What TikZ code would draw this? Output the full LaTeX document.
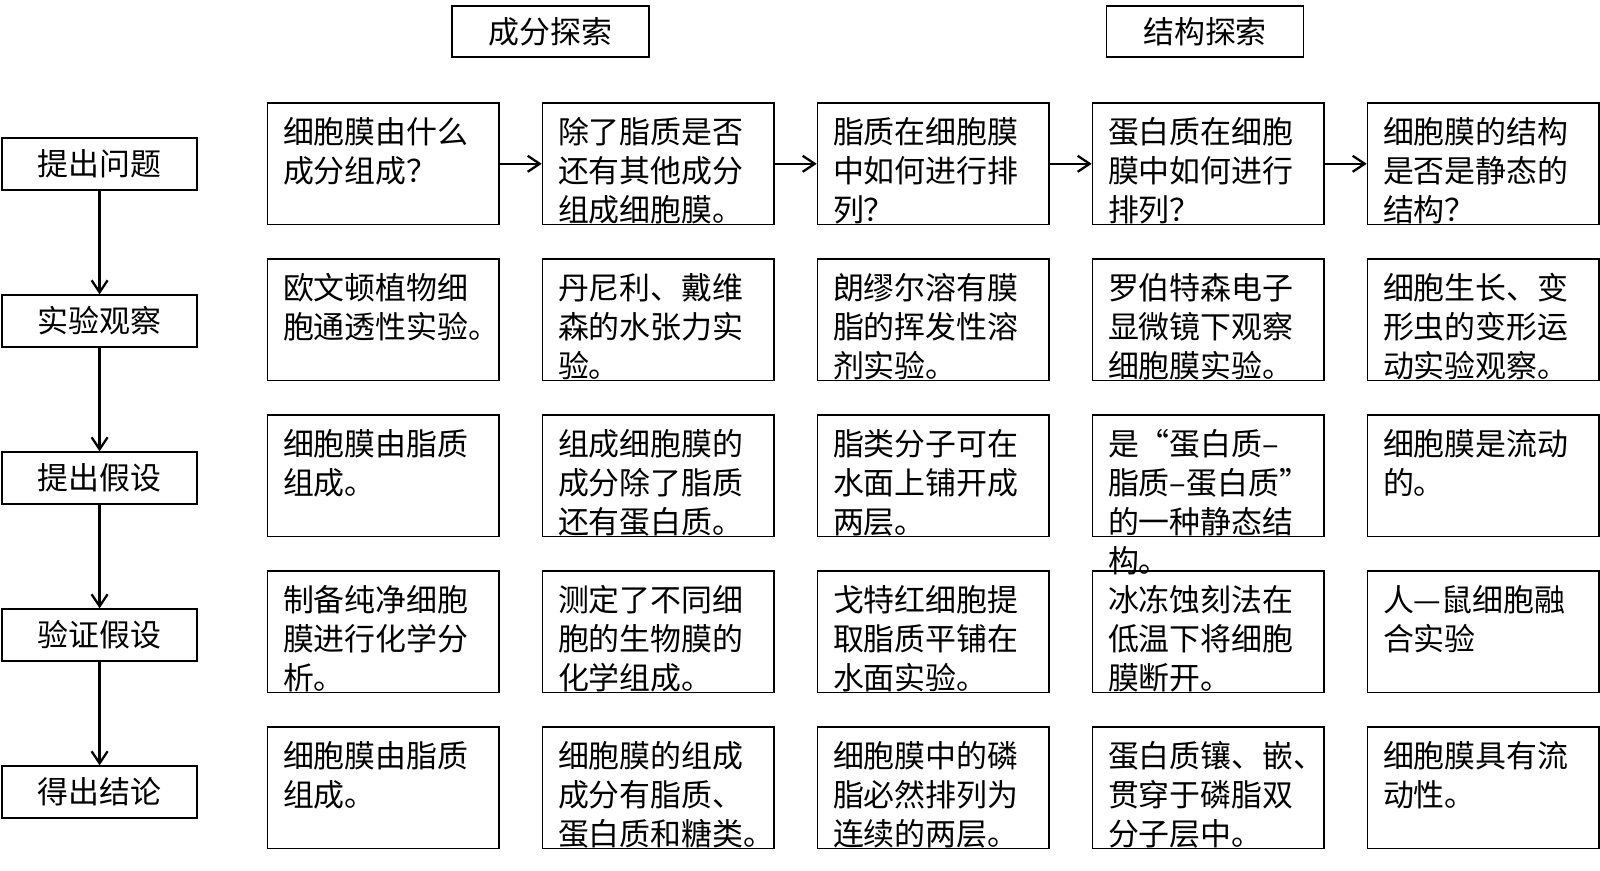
\documentclass[tikz,border=0pt]{standalone}
\usepackage{fontspec}
\setmainfont{Noto Sans CJK SC}
\usetikzlibrary{arrows.meta}

\begin{document}
\begin{tikzpicture}[
  every node/.style={font=\fontsize{22}{27.9}\selectfont},
  stagebox/.style={draw,line width=1pt,minimum width=4.875cm,minimum height=1.3cm,inner sep=0pt},
  headbox/.style={draw,line width=1pt,minimum width=4.925cm,minimum height=1.275cm,inner sep=0pt},
  cellbox/.style={draw,line width=1pt,text width=5.01cm,align=left,inner xsep=0.39cm,
                  inner ysep=0.15cm,text height=0.85cm,text depth=1.885cm},
  flow/.style={-{Straight Barb[length=3mm,width=4mm]},line width=1.6pt},
]
  \useasboundingbox (0,0) rectangle (40,21.75);

  % Headers
  \node[headbox] (compo) at (13.76,20.96) {成分探索};
  \node[headbox] (struct) at (30.125,20.96) {结构探索};

  % Stages
  \node[stagebox] (ask) at (2.49,17.655) {提出问题};
  \node[stagebox] (observe) at (2.49,13.725) {实验观察};
  \node[stagebox] (hypo) at (2.49,9.8) {提出假设};
  \node[stagebox] (verify) at (2.49,5.875) {验证假设};
  \node[stagebox] (conclude) at (2.49,1.95) {得出结论};

  % Questions
  \node[cellbox] (q1) at (9.58,17.655) {细胞膜由什么\\成分组成？};
  \node[cellbox] (q2) at (16.455,17.655) {除了脂质是否\\还有其他成分\\组成细胞膜。};
  \node[cellbox] (q3) at (23.33,17.655) {脂质在细胞膜\\中如何进行排\\列？};
  \node[cellbox] (q4) at (30.205,17.655) {蛋白质在细胞\\膜中如何进行\\排列？};
  \node[cellbox] (q5) at (37.08,17.655) {细胞膜的结构\\是否是静态的\\结构？};

  % Experiments
  \node[cellbox] (o1) at (9.58,13.755) {欧文顿植物细\\胞通透性实验。};
  \node[cellbox] (o2) at (16.455,13.755) {丹尼利、戴维\\森的水张力实\\验。};
  \node[cellbox] (o3) at (23.33,13.755) {朗缪尔溶有膜\\脂的挥发性溶\\剂实验。};
  \node[cellbox] (o4) at (30.205,13.755) {罗伯特森电子\\显微镜下观察\\细胞膜实验。};
  \node[cellbox] (o5) at (37.08,13.755) {细胞生长、变\\形虫的变形运\\动实验观察。};

  % Hypotheses
  \node[cellbox] (h1) at (9.58,9.855) {细胞膜由脂质\\组成。};
  \node[cellbox] (h2) at (16.455,9.855) {组成细胞膜的\\成分除了脂质\\还有蛋白质。};
  \node[cellbox] (h3) at (23.33,9.855) {脂类分子可在\\水面上铺开成\\两层。};
  \node[cellbox] (h4) at (30.205,9.855) {\mbox{是“蛋白质–}\\\mbox{脂质–蛋白质”}\\的一种静态结\\构。};
  \node[cellbox] (h5) at (37.08,9.855) {细胞膜是流动\\的。};

  % Verification
  \node[cellbox] (v1) at (9.58,5.955) {制备纯净细胞\\膜进行化学分\\析。};
  \node[cellbox] (v2) at (16.455,5.955) {测定了不同细\\胞的生物膜的\\化学组成。};
  \node[cellbox] (v3) at (23.33,5.955) {戈特红细胞提\\取脂质平铺在\\水面实验。};
  \node[cellbox] (v4) at (30.205,5.955) {冰冻蚀刻法在\\低温下将细胞\\膜断开。};
  \node[cellbox] (v5) at (37.08,5.955) {人—鼠细胞融\\合实验};

  % Conclusions
  \node[cellbox] (c1) at (9.58,2.055) {细胞膜由脂质\\组成。};
  \node[cellbox] (c2) at (16.455,2.055) {细胞膜的组成\\成分有脂质、\\蛋白质和糖类。};
  \node[cellbox] (c3) at (23.33,2.055) {细胞膜中的磷\\脂必然排列为\\连续的两层。};
  \node[cellbox] (c4) at (30.205,2.055) {蛋白质镶、嵌、\\贯穿于磷脂双\\分子层中。};
  \node[cellbox] (c5) at (37.08,2.055) {细胞膜具有流\\动性。};

  % Arrows
  \draw[flow] (ask.south) -- (observe.north);
  \draw[flow] (observe.south) -- (hypo.north);
  \draw[flow] (hypo.south) -- (verify.north);
  \draw[flow] (verify.south) -- (conclude.north);
  \draw[flow] (q1.east) -- (q2.west);
  \draw[flow] (q2.east) -- (q3.west);
  \draw[flow] (q3.east) -- (q4.west);
  \draw[flow] (q4.east) -- (q5.west);
\end{tikzpicture}
\end{document}
